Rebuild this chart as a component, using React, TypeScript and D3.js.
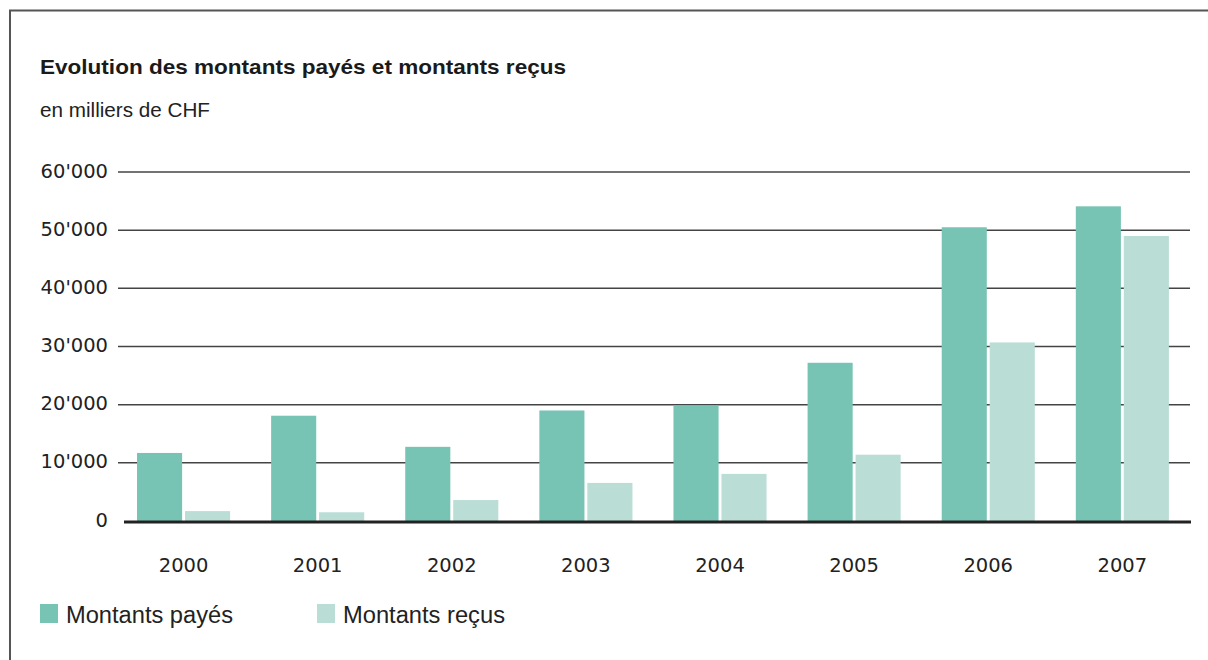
import React from "react";
import * as d3 from "d3";

const years = ["2000", "2001", "2002", "2003", "2004", "2005", "2006", "2007"];
const paid = [11700, 18100, 12750, 19000, 19800, 27200, 50500, 54100];
const received = [1700, 1500, 3600, 6550, 8100, 11400, 30700, 49000];
const yTicks = [0, 10000, 20000, 30000, 40000, 50000, 60000];
const seriesNames = ["Montants payés", "Montants reçus"];
const colors = ["#78C4B4", "#BADDD6"];

const fmt = (v: number) => (v === 0 ? "0" : d3.format(",")(v).replace(/,/g, "'"));

export default function App() {
  const W = 1208, H = 660;
  const y = d3.scaleLinear().domain([0, 60000]).range([521, 172]);
  const x = d3.scaleBand().domain(years).range([116.9, 1189]).paddingInner(0.306).paddingOuter(0.15);
  const xs = d3.scaleBand().domain(["p", "r"]).range([0, x.bandwidth()]).paddingInner(0.06);
  const font = "'Liberation Sans', Arial, sans-serif";
  const numFont = "'DejaVu Sans', sans-serif";
  return (
    <svg width={W} height={H} style={{ position: "absolute", left: 0, top: 0, background: "#fff" }} fontFamily={font}>
      <path d={`M10,${H} V10.5 H${W}`} fill="none" stroke="#555" strokeWidth={2} />
      <text x={40} y={74} fontSize={21} fontWeight="bold" fill="#1a1a1a" textLength={526} lengthAdjust="spacingAndGlyphs">
        Evolution des montants payés et montants reçus
      </text>
      <text x={40} y={117} fontSize={20} fill="#222" textLength={170} lengthAdjust="spacingAndGlyphs">en milliers de CHF</text>
      {yTicks.map((t) => (
        <g key={t}>
          {t > 0 && <line x1={118} x2={1190} y1={y(t)} y2={y(t)} stroke="#444" strokeWidth={1.5} />}
          <text x={108} y={y(t) + 5.5} textAnchor="end" fontSize={19.5} fill="#222" fontFamily={numFont}>{fmt(t)}</text>
        </g>
      ))}
      {years.map((yr, i) => (
        <g key={yr} transform={`translate(${x(yr)},0)`}>
          <rect x={xs("p")} y={y(paid[i])} width={xs.bandwidth()} height={y(0) - y(paid[i])} fill={colors[0]} />
          <rect x={xs("r")} y={y(received[i])} width={xs.bandwidth()} height={y(0) - y(received[i])} fill={colors[1]} />
          <text x={x.bandwidth() / 2} y={572} textAnchor="middle" fontSize={19.5} fill="#222" fontFamily={numFont}>{yr}</text>
        </g>
      ))}
      <line x1={124} x2={1191} y1={y(0) + 1} y2={y(0) + 1} stroke="#222" strokeWidth={3} />
      {seriesNames.map((s, i) => (
        <g key={s} transform={`translate(${[40, 317][i]},604)`}>
          <rect width={18} height={19} fill={colors[i]} />
          <text x={26} y={18.5} fontSize={23} fill="#222" textLength={[167, 162][i]} lengthAdjust="spacingAndGlyphs">{s}</text>
        </g>
      ))}
    </svg>
  );
}
